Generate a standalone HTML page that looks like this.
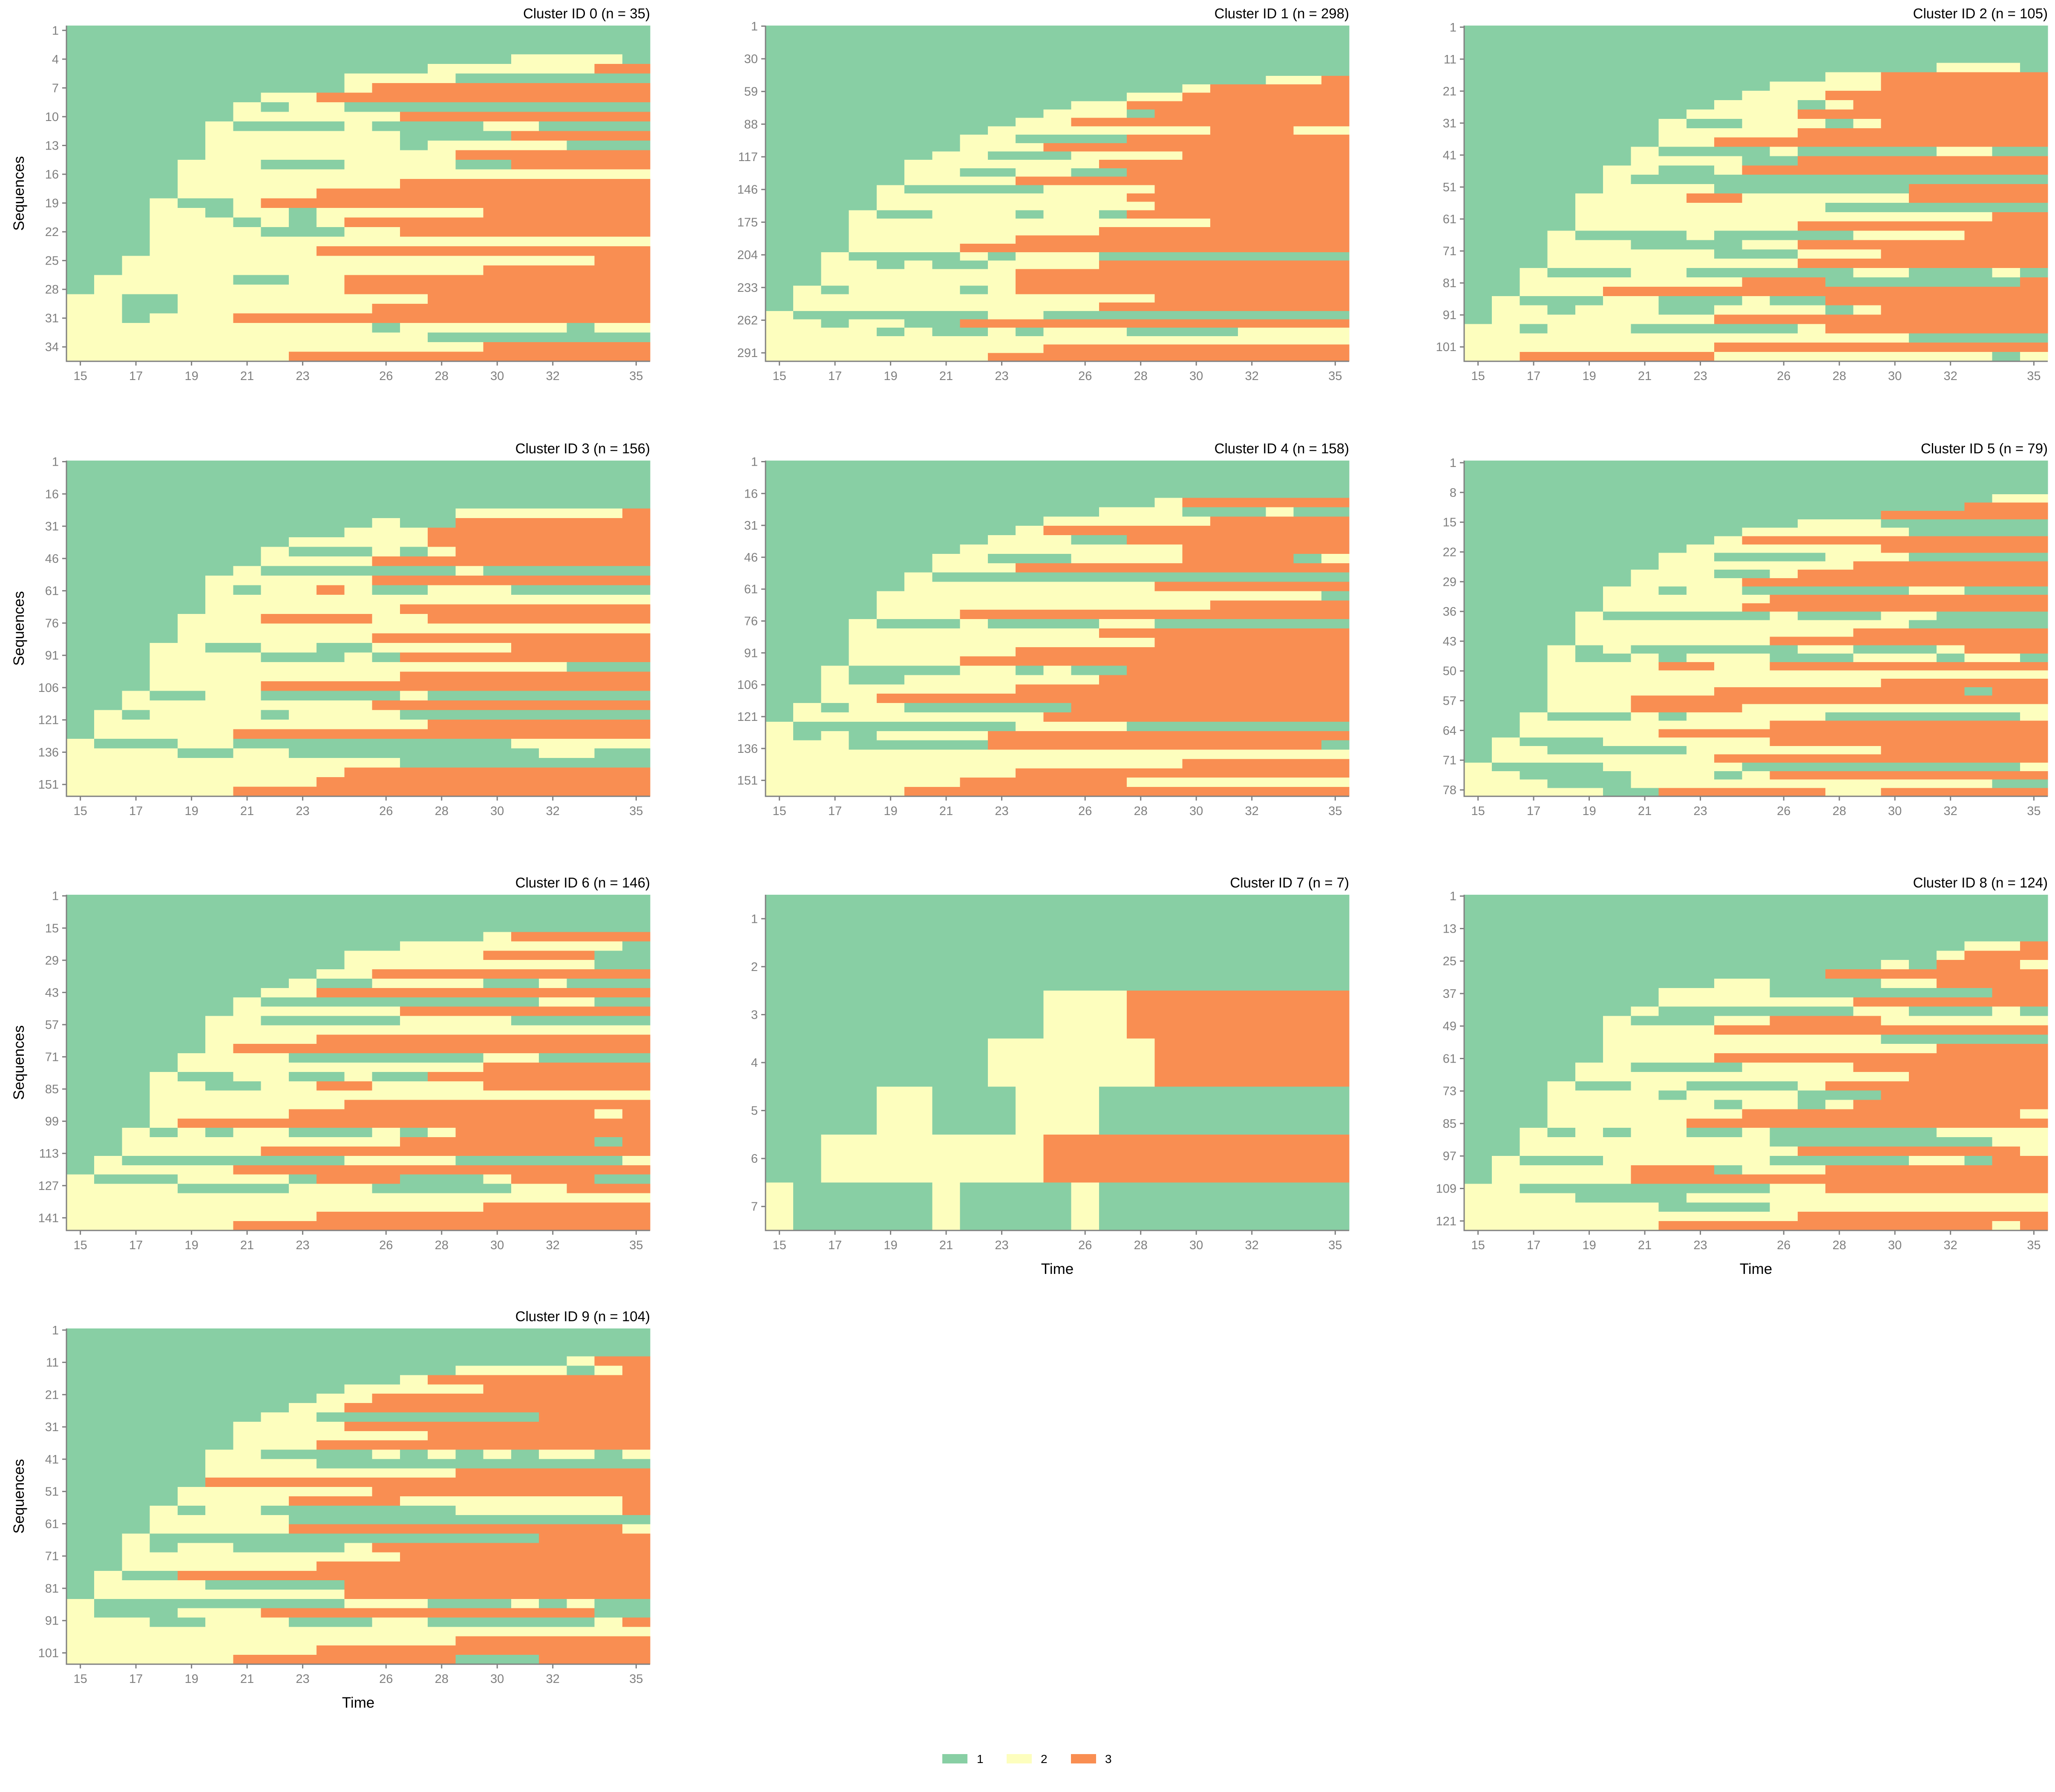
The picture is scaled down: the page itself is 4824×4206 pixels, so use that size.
<!DOCTYPE html>
<html><head><meta charset="utf-8">
<style>
html,body{margin:0;padding:0;background:#fff;}
svg{display:block;font-family:"Liberation Sans","DejaVu Sans",sans-serif;}
</style></head>
<body>
<svg id="chart" width="4824" height="4206" viewBox="0 0 4824 4206" xmlns="http://www.w3.org/2000/svg">
<rect x="0" y="0" width="4824" height="4206" fill="#ffffff"/>
<g id="panels"></g>
<g id="legend">
  <rect x="2212" y="4117" width="59" height="22" fill="#88cfa4"/>
  <text x="2293" y="4138" font-size="28" fill="#000">1</text>
  <rect x="2363" y="4117" width="59" height="22" fill="#fdfebe"/>
  <text x="2443" y="4138" font-size="28" fill="#000">2</text>
  <rect x="2514" y="4117" width="59" height="22" fill="#f98e52"/>
  <text x="2594" y="4138" font-size="28" fill="#000">3</text>
</g>
</svg>
<script>
// ---- data ----
const years = [15,16,17,18,19,20,21,22,23,24,25,26,27,28,29,30,31,32,33,34,35];
const xTickYears = [15,17,19,21,23,26,28,30,32,35];
const clusterSizes = [35,298,105,156,158,79,146,7,124,104];
const yTickSteps = [3,29,10,15,15,7,14,1,12,10];
const stateColors = {"1":"#88cfa4","2":"#fdfebe","3":"#f98e52"};

const seq0 = ["111111111111111111111","111111111111111111111","111111111111111111111","111111111111111122221","111111111111122222233","111111111122221111111","111111111123333333333","111111122333333333333","111111212211111111111","111111222222333333333","111112111121111221111","111112222222111133333","111112222222122222111","111112222222223333333","111122211122221133333","111122222222222222222","111122222222333333333","111122222333333333333","111211233333333333333","111221221222222333333","111222121233333333333","111222211122333333333","111222222222222222222","111222222333333333333","112222222222222222233","112222222222222333333","122222112233333333333","122222222233333333333","221122222222233333333","221122222223333333333","221222333333333333333","222222222221222222122","222222222222211111111","222222222222222333333","222222223333333333333"];
const seq1 = ["111111111111111111111","111111111111111111111","111111111111111111111","111111111111111111111","111111111111111111111","111111111111111111111","111111111111111111223","111111111111111233333","111111111111122333333","111111111112233333333","111111111122213333333","111111111223333333333","111111112222222233322","111111122111133333333","111111122233333333333","111111221112222333333","111112222222333333333","111112211221133333333","111112222333333333333","111121111122223333333","111122222222233333333","111122222222223333333","111211222122133333333","111222222222222233333","111222222222333333333","111222222333333333333","111222233333333333333","112111121222111111111","112212112222333333333","112222222333333333333","112222222333333333333","121222212333333333333","122222222222223333333","122222222222333333333","211111112211111111111","221221133333333333333","222212112122211112222","222222222222222222222","222222222233333333333","222222223333333333333"];
const seq2 = ["111111111111111111111","111111111111111111111","111111111111111111111","111111111111111111111","111111111111111112221","111111111111122333333","111111111112222333333","111111111122233333333","111111111222123333333","111111112222333333333","111111121122212333333","111111122222333333333","111111122333333333333","111111211112111112211","111111222211333333333","111112211233333333333","111112111111111111111","111112222111111133333","111122223322222233333","111122222222211111111","111122222222222222233","111122222222333333333","111211112111112222333","111222111122333333333","111222222111222333333","111222222222333333333","112111221111112211121","112222222233311111113","112223333333333333333","121112211121133333333","122122211222212333333","122222222333333333333","221222111111233333333","222222222222222211111","222222222333333333333","223333333222222222212"];
const seq3 = ["111111111111111111111","111111111111111111111","111111111111111111111","111111111111111111111","111111111111111111111","111111111111112222223","111111111112113333333","111111111122233333333","111111112222233333333","111111121112123333333","111111122223333333333","111111211111112111111","111112222223333333333","111112122321122211111","111112222222222222222","111112222222333333333","111122233332233333333","111122222222222222222","111122222223333333333","111221122112222233333","111222211121333333333","111222222222222222111","111222222222333333333","111222233333333333333","112112211111211111111","112222222223333333333","121222212222111111111","122222222222233333333","122222333333333333333","211122111111111122222","222211221111111112211","222222222222111111111","222222222233333333333","222222222333333333333","222222333333333333333"];
const seq4 = ["111111111111111111111","111111111111111111111","111111111111111111111","111111111111111111111","111111111111112333333","111111111111222111211","111111111122222233333","111111111233333333333","111111112221133333333","111111122222222333333","111111221112222333312","111111222333333333333","111112111111111111111","111112222222223333333","111122222222222222221","111122222222222233333","111122233333333333333","111211121111221111111","111222222222333333333","111222222222223333333","111222222333333333333","111222233333333333333","112111122121133333333","112112222222333333333","112222222333333333333","112233333333333333333","121221111113333333333","122222222233333333333","211111111222211111111","212122223333333333333","222111113333333333331","222222222222222222222","222222222222222333333","222222222333333333333","222222233333322222222","222223333333333333333"];
const seq5 = ["111111111111111111111","111111111111111111111","111111111111111111111","111111111111111111111","111111111111111111122","111111111111111111333","111111111111111333333","111111111111222111111","111111111122222211111","111111111233333333333","111111112222222333333","111111122111122211111","111111122222223333333","111111222112333333333","111111222233333333333","111112212211111122111","111112222223333333333","111112222233333333333","111121111112111221111","111122222222222211111","111122222222223333333","111122222223333333333","111212111111221112333","111211212221112221221","111222233223333333333","111222222222222222222","111222222222222333333","111222222333333333133","111222333333333333333","111222333322222222222","112111212222211111112","112222222223333333333","112222233333333333333","121112222223333333333","122111112222222333333","122222222333333333333","211112222211111111112","221111222123333333333","222111222222222222211","222221133333322333333"];
const seq6 = ["111111111111111111111","111111111111111111111","111111111111111111111","111111111111111111111","111111111111111233333","111111111111222222221","111111111122222333311","111111111122222222211","111111111223333333333","111111112112222112111","111111122333333333333","111111211111111112211","111111222222333333333","111112211111222211111","111112222222222222222","111112222333333333333","111112333333333333333","111122221111111221111","111122222222222333333","111211221121133333333","111221122332222333333","111222222222222222222","111222222233333333333","111222223333333333323","111233333333333333333","112121221112123333333","112222222222333333313","112222233333333333333","121111111122221111112","122222333333333333333","211122221333111233311","222211112221111122333","222222222222222222222","222222222222222333333","222222222333333333333","222222333333333333333"];
const seq7 = ["111111111111111111111","111111111111111111111","111111111122233333333","111111112222223333333","111122111222111111111","112222222233333333333","211111211112111111111"];
const seq8 = ["111111111111111111111","111111111111111111111","111111111111111111111","111111111111111111111","111111111111111111111","111111111111111111223","111111111111111112333","111111111111111213332","111111111111133333333","111111111221111223333","111111122221111111133","111111122222223333333","111111211111112211121","111112111223333222222","111112222333333333333","111112222222222111111","111112222222222223333","111112222333333333333","111122111122223333333","111122222222222233333","111211221111233333333","111222212222111333333","111222222122123333333","111222222233333333332","111222223333333333333","112121221121111112222","112222222221111111122","112222222222333333332","121112222221111122133","122222333122233333333","122222333333333333333","221111111112233333333","222211112222222222222","222222211112222222222","222222222222333333333","222222233333333333323"];
const seq9 = ["111111111111111111111","111111111111111111111","111111111111111111111","111111111111111111233","111111111111112222123","111111111111233333333","111111111122222333333","111111111223333333333","111111112233333333333","111111122111111113333","111111222233333333333","111111222222233333333","111111222333333333333","111112211112121212212","111112222111111111111","111112222222223333333","111113333333333333333","111122222223333333333","111122223333222222223","111212211111112222223","111222221111111111111","111222223333333333332","112111111111111113333","112122111123333333333","112222222222333333333","112222222333333333333","121133333333333333333","122221111133333333333","122222222233333333333","211111111122211121211","211122233333333333311","222112221112211111123","222222222222222222222","222222222222223333333","222222222333333333333","222222333333331113333"];
const clusterSeqs = [seq0,seq1,seq2,seq3,seq4,seq5,seq6,seq7,seq8,seq9];

// ---- layout ----
const colX = [156, 1797, 3437];
const rowY = [60, 1081, 2100, 3118];
const PW = 1370, PH = 788;
const NS = "http://www.w3.org/2000/svg";
const root = document.getElementById('panels');
function mk(tag, attrs, parent){
  const e = document.createElementNS(NS, tag);
  for (const k in attrs) e.setAttribute(k, attrs[k]);
  parent.appendChild(e);
  return e;
}
function xScale(px, year){ return px + (year - years[0]) / years.length * PW; }
function yScale(py, idx, count){ return py + idx / count * PH; }

const timeLabelPanels = [7,8,9];
const seqLabelPanels = [0,3,6,9];

clusterSeqs.forEach((rows, ci) => {
  const px = colX[ci % 3], py = rowY[Math.floor(ci / 3)];
  const n = clusterSizes[ci];
  const g = mk('g', {}, root);
  
  
  const cells = mk('g', {'shape-rendering':'crispEdges'}, g);
  
  
  const R = rows.length;
  rows.forEach((rawRow, ri) => {
    let row = rawRow;
    while (row.length < years.length) row += row[row.length - 1];
    row = row.slice(0, years.length);
    const y0 = yScale(py, ri, R), y1 = yScale(py, ri + 1, R);
    let start = 0;
    for (let k = 1; k <= years.length; k++) {
      if (k === years.length || row[k] !== row[start]) {
        const x0 = xScale(px, years[start]), x1 = xScale(px, years[k - 1] + 1);
        const r = mk('rect', {x:x0.toFixed(2), y:y0.toFixed(2), width:(x1 - x0 + 0.6).toFixed(2), height:(y1 - y0 + 0.6).toFixed(2), fill:stateColors[row[start]]}, cells);
        
        
        start = k;
      }
    }
  });
  // spines
  const ax = mk('path', {d:`M${px} ${py} V${py + PH} H${px + PW}`, fill:'none', stroke:'#808080', 'stroke-width':3}, g);
  
  
  // y ticks
  const step = yTickSteps[ci];
  for (let v = 1; v <= n; v += step) {
    const ty = py + (v - 0.5) / n * PH;
    const tk = mk('line', {x1:px - 10, y1:ty, x2:px, y2:ty, stroke:'#808080', 'stroke-width':3}, g);
    
    
    const tl = mk('text', {x:px - 18, y:ty + 10, 'font-size':29, fill:'#808080', 'text-anchor':'end'}, g);
    tl.textContent = v;
    
    
  }
  // x ticks
  xTickYears.forEach(yr => {
    const tx = xScale(px, yr + 0.5);
    const tk = mk('line', {x1:tx, y1:py + PH, x2:tx, y2:py + PH + 10, stroke:'#808080', 'stroke-width':3}, g);
    
    
    const tl = mk('text', {x:tx, y:py + PH + 44, 'font-size':29, fill:'#808080', 'text-anchor':'middle'}, g);
    tl.textContent = yr;
    
    
  });
  // title
  const t = mk('text', {x:px + PW, y:py - 17, 'font-size':33, fill:'#000', 'text-anchor':'end'}, g);
  t.textContent = 'Cluster ID ' + ci + ' (n = ' + n + ')';
  
  
  if (seqLabelPanels.includes(ci)) {
    const cy = py + PH / 2;
    const s = mk('text', {x:0, y:0, 'font-size':35, fill:'#000', 'text-anchor':'middle', transform:`translate(${px - 100},${cy}) rotate(-90)`}, g);
    s.textContent = 'Sequences';
    
    
  }
  if (timeLabelPanels.includes(ci)) {
    const s = mk('text', {x:px + PW / 2, y:py + PH + 102, 'font-size':35, fill:'#000', 'text-anchor':'middle'}, g);
    s.textContent = 'Time';
    
    
  }
});
</script>
</body></html>
